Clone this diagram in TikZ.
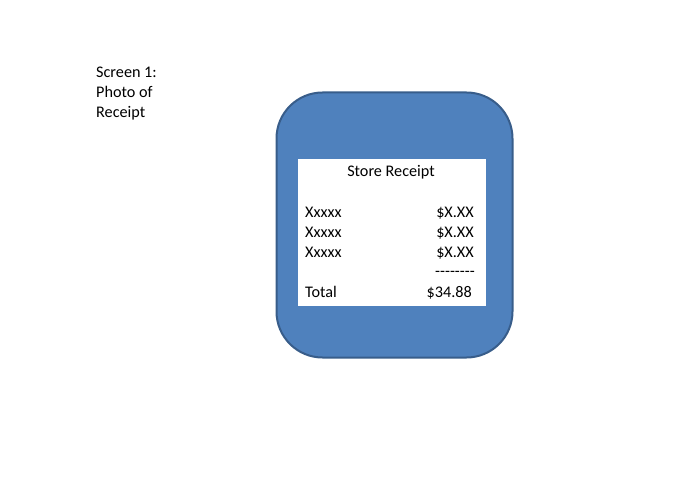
\documentclass[tikz,border=0pt]{standalone}
\usepackage{fontspec}
\setmainfont{Carlito}
\usepackage{tikz}
\usetikzlibrary{positioning}

\definecolor{phoneblue}{HTML}{4F81BD}
\definecolor{phoneborder}{HTML}{385D8A}

\begin{document}
\begin{tikzpicture}[x=1pt, y=-1pt, every node/.style={inner sep=0pt, font=\fontsize{16.2}{19.5}\selectfont}, item/.style={anchor=base west}, price/.style={anchor=base east}]
  \useasboundingbox (0,0) rectangle (695,494);
  \node[anchor=base west, align=left, font=\fontsize{16.2}{20}\selectfont] (title) at (96,118) {Screen 1:\\Photo of\\Receipt};
  \node[rectangle, draw=phoneborder, fill=phoneblue, line width=2pt, rounded corners=46pt, minimum width=236pt, minimum height=265pt] (phone) at (394.5,225) {};
  \node[rectangle, fill=white, minimum width=188pt, minimum height=147pt] (receipt) at (392,232.5) {};
  \node[anchor=base] (store) at (391,177) {Store Receipt};
  \node[item] (item1) at (305,218) {Xxxxx};
  \node[item] (item2) at (305,237.5) {Xxxxx};
  \node[item] (item3) at (305,257) {Xxxxx};
  \node[price] (price1) at (474,218) {\$X.XX};
  \node[price] (price2) at (474,237.5) {\$X.XX};
  \node[price] (price3) at (474,257) {\$X.XX};
  \node[price] (dashes) at (475,276) {-{}-{}-{}-{}-{}-{}-{}-};
  \node[item] (total) at (305,297) {Total};
  \node[price] (sum) at (472,297) {\$34.88};
\end{tikzpicture}
\end{document}
